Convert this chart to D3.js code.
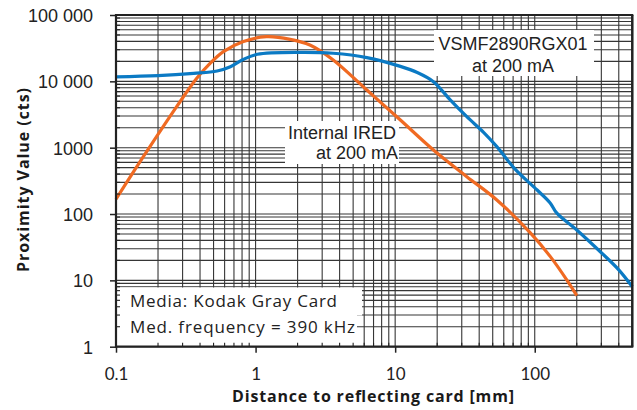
<!DOCTYPE html>
<html><head><meta charset="utf-8">
<script src="https://cdn.jsdelivr.net/npm/d3@7"></script>
<style>html,body{margin:0;padding:0;background:#fff;}svg{display:block;}</style>
</head><body>
<svg id="chart" width="637" height="410"></svg>
<script>
// ---- data ----
const blueDist = [0.1, 0.2, 0.36, 0.53, 0.66, 0.82, 1.03, 2.08, 3.6, 6.27, 10.9, 14.4, 18.8, 24.8, 32.6, 43, 53.5, 72, 104, 129, 144, 200, 295, 400, 500];
const blueVals = [11700, 12200, 13200, 14300, 16600, 21500, 25600, 27400, 26500, 22800, 16800, 13600, 9900, 5250, 2930, 1700, 1036, 480, 230, 147, 103, 57.5, 27, 14.4, 8];
const orangeDist = [0.1, 0.157, 0.272, 0.379, 0.472, 0.588, 0.818, 1.2, 1.77, 2.45, 3.6, 6.27, 10.9, 18.8, 32.6, 53.5, 93, 129, 170, 200];
const orangeVals = [167, 730, 4150, 11100, 18600, 28000, 39800, 47100, 43000, 35300, 21000, 7400, 2610, 923, 366, 163, 52, 23, 10.1, 5.9];
const xTickVals = [0.1, 1, 10, 100];
const xTickLabels = ["0.1", "1", "10", "100"];
const yTickVals = [1, 10, 100, 1000, 10000, 100000];
const yTickLabels = ["1", "10", "100", "1000", "10 000", "100 000"];
const seriesLabels = [["VSMF2890RGX01", "at 200 mA"], ["Internal IRED", "at 200 mA"]];
const noteLines = ["Media: Kodak Gray Card", "Med. frequency = 390 kHz"];
const xTitle = "Distance to reflecting card [mm]";
const yTitle = "Proximity Value (cts)";

// ---- layout ----
const L = 116, R = 632.3, T = 15, B = 346.7;
const svg = d3.select("#chart");
const x = d3.scaleLog().domain([0.1, 500]).range([L, R]);
const y = d3.scaleLog().domain([1, 100000]).range([B, T]);

const xGrid = [];
for (let d = 0.1; d < 500; d *= 10) for (let m = 1; m <= 9; m++) { const v = +(d * m).toPrecision(3); if (v <= 500) xGrid.push(v); }
const yGrid = [];
for (let d = 1; d < 100000; d *= 10) for (let m = 1; m <= 9; m++) yGrid.push(d * m);

const gridCol = "#363636";
const g = svg.append("g");
g.selectAll("line.vg").data(xGrid).join("line")
  .attr("x1", d => x(d)).attr("x2", d => x(d)).attr("y1", T).attr("y2", B)
  .attr("stroke", gridCol).attr("stroke-width", 1.1);
g.selectAll("line.hg").data(yGrid).join("line")
  .attr("y1", d => y(d)).attr("y2", d => y(d)).attr("x1", L).attr("x2", R)
  .attr("stroke", gridCol).attr("stroke-width", 1.1);

// curves
const line = d3.line().x(d => x(d[0])).y(d => y(d[1])).curve(d3.curveCatmullRom.alpha(0.5));
svg.append("path").datum(orangeDist.map((d, i) => [d, orangeVals[i]]))
  .attr("d", line).attr("fill", "none").attr("stroke", "#f06a22").attr("stroke-width", 3.2);
svg.append("path").datum(blueDist.map((d, i) => [d, blueVals[i]]))
  .attr("d", line).attr("fill", "none").attr("stroke", "#0b7ac4").attr("stroke-width", 3.2);

// white label boxes
const boxes = [
  [434, 30, 160, 46],
  [285, 121, 114, 43],
  [117, 287.5, 245, 28],
  [117, 315, 240, 31]
];
svg.selectAll("rect.box").data(boxes).join("rect")
  .attr("x", d => d[0]).attr("y", d => d[1]).attr("width", d => d[2]).attr("height", d => d[3])
  .attr("fill", "#fff");

// axes
const axCol = "#222";
const xAxis = d3.axisBottom(x).tickValues(xTickVals).tickFormat((d, i) => xTickLabels[i]).tickSize(6).tickSizeOuter(0);
const gx = svg.append("g").attr("transform", `translate(0,${B})`).call(xAxis);
gx.select(".domain").remove();
gx.selectAll(".tick line").attr("stroke", axCol).attr("stroke-width", 1.5);
gx.selectAll(".tick text").attr("font-family", "Lato, 'Open Sans', sans-serif").attr("font-size", 17)
  .attr("fill", "#222").attr("y", 0).attr("dy", null).attr("transform", "translate(0,33.5)");
const xMinor = xGrid.filter(v => !xTickVals.includes(v));
svg.selectAll("line.xm").data(xMinor).join("line")
  .attr("x1", d => x(d)).attr("x2", d => x(d)).attr("y1", B).attr("y2", B - 4)
  .attr("stroke", axCol).attr("stroke-width", 1.1);

const yAxis = d3.axisLeft(y).tickValues(yTickVals).tickFormat((d, i) => yTickLabels[i]).tickSize(6).tickSizeOuter(0);
const gy = svg.append("g").attr("transform", `translate(${L},0)`).call(yAxis);
gy.select(".domain").remove();
gy.selectAll(".tick line").attr("stroke", axCol).attr("stroke-width", 1.5);
gy.selectAll(".tick text").attr("font-family", "'Liberation Sans', Arial, sans-serif").attr("font-size", 18)
  .attr("fill", "#222").attr("x", 93 - L).attr("dy", "0.36em");
const yMinor = yGrid.filter(v => !yTickVals.includes(v));
svg.selectAll("line.ym").data(yMinor).join("line")
  .attr("y1", d => y(d)).attr("y2", d => y(d)).attr("x1", L).attr("x2", L + 4)
  .attr("stroke", axCol).attr("stroke-width", 1.1);

// frame
svg.append("line").attr("x1", L).attr("x2", R + 1).attr("y1", T).attr("y2", T).attr("stroke", axCol).attr("stroke-width", 2);
svg.append("line").attr("x1", R).attr("x2", R).attr("y1", T).attr("y2", B).attr("stroke", axCol).attr("stroke-width", 2.5);
svg.append("line").attr("x1", L).attr("x2", L).attr("y1", T - 1).attr("y2", B + 1).attr("stroke", axCol).attr("stroke-width", 2.2);
svg.append("line").attr("x1", L - 1).attr("x2", R + 1).attr("y1", B).attr("y2", B).attr("stroke", axCol).attr("stroke-width", 2.2);

// series labels
const sansA = "'Liberation Sans', Arial, sans-serif";
const lbl1 = svg.append("text").attr("font-family", sansA).attr("font-size", 18).attr("fill", "#222").attr("text-anchor", "middle");
lbl1.append("tspan").attr("x", 513).attr("y", 50).text(seriesLabels[0][0]);
lbl1.append("tspan").attr("x", 513).attr("y", 71.5).text(seriesLabels[0][1]);
const lbl2 = svg.append("text").attr("font-family", sansA).attr("font-size", 18).attr("fill", "#222").attr("text-anchor", "middle");
lbl2.append("tspan").attr("x", 342).attr("y", 138.5).text(seriesLabels[1][0]);
lbl2.append("tspan").attr("x", 357).attr("y", 159).text(seriesLabels[1][1]);

// note
const noteLen = [207, 225];
svg.selectAll("text.note").data(noteLines).join("text")
  .attr("x", 130).attr("y", (d, i) => 306.5 + i * 26.5)
  .attr("font-family", "'Open Sans', Lato, sans-serif").attr("font-size", 17).attr("fill", "#222")
  .attr("textLength", (d, i) => noteLen[i]).attr("lengthAdjust", "spacing")
  .text(d => d);

// axis titles
svg.append("text").attr("x", 373).attr("y", 402).attr("text-anchor", "middle")
  .attr("font-family", "'Open Sans', Lato, sans-serif").attr("font-weight", "bold").attr("font-size", 16)
  .attr("textLength", 282).attr("lengthAdjust", "spacing")
  .attr("fill", "#1a1a1a").text(xTitle);
svg.append("text").attr("transform", "translate(29,180) rotate(-90)").attr("text-anchor", "middle")
  .attr("font-family", "'Open Sans', Lato, sans-serif").attr("font-weight", "bold").attr("font-size", 16)
  .attr("textLength", 184).attr("lengthAdjust", "spacing")
  .attr("fill", "#1a1a1a").text(yTitle);
</script>
</body></html>
